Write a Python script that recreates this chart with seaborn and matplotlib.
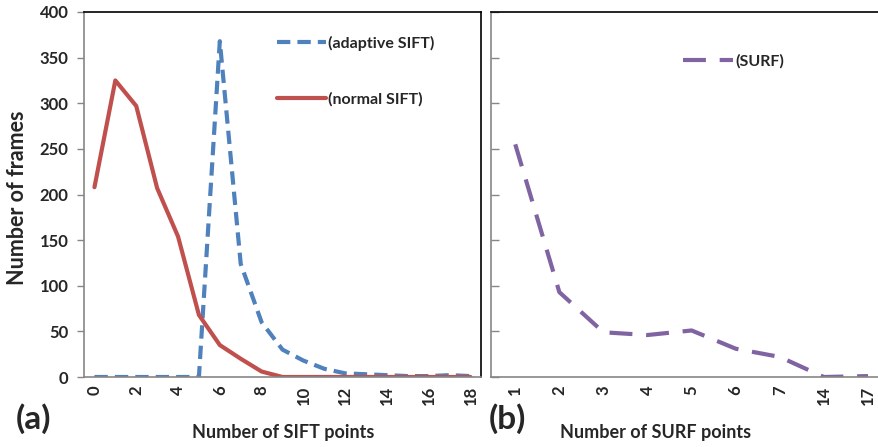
import matplotlib

matplotlib.use("Agg")
import matplotlib.pyplot as plt
import numpy as np
import pandas as pd
import seaborn as sns

# --- data ----------------------------------------------------------------- #
sift_points = list(range(19))
adaptive_sift = [0, 0, 0, 0, 0, 0, 368, 124, 60, 30, 18, 9, 4, 3, 2, 1, 1, 2, 1]
normal_sift = [208, 325, 297, 207, 154, 68, 35, 20, 6, 0, 0, 0, 0, 0, 0, 0, 0, 0, 0]

surf_labels = ["1", "2", "3", "4", "5", "6", "7", "14", "17"]
surf_frames = [255, 93, 49, 46, 51, 31, 22, 0, 1]

y_ticks = list(range(0, 401, 50))

BLUE = "#4F81BD"
RED = "#C0504D"
PURPLE = "#8064A2"
GRAY = "#868686"

sns.set_theme(style="white")
plt.rcParams["font.family"] = ["Lato", "DejaVu Sans"]
plt.rcParams["font.weight"] = "bold"

W, H = 879, 447
fig = plt.figure(figsize=(W / 100, H / 100), dpi=100)


def px_axes(x0, x1, y0, y1):
    return fig.add_axes([x0 / W, 1 - y1 / H, (x1 - x0) / W, (y1 - y0) / H])


ax_a = px_axes(84, 481, 12, 377)
ax_b = px_axes(491, 879, 12, 377)

# --- panel (a) -------------------------------------------------------------- #
sift_df = pd.DataFrame(
    {"points": sift_points, "adaptive": adaptive_sift, "normal": normal_sift}
)
sns.lineplot(
    data=sift_df, x="points", y="adaptive", ax=ax_a, color=BLUE, lw=3,
    label="(adaptive SIFT)",
)
ax_a.lines[-1].set_dashes((3.2, 1.7))
sns.lineplot(
    data=sift_df, x="points", y="normal", ax=ax_a, color=RED, lw=3,
    label="(normal SIFT)",
)

ax_a.set_xlim(-0.5, 18.5)
ax_a.set_ylim(0, 400)
ax_a.set_xticks(sift_points[::2])
ax_a.set_xticklabels([str(v) for v in sift_points[::2]], rotation=90)
ax_a.set_yticks(y_ticks)
ax_a.tick_params(axis="y", direction="out", length=5, color=GRAY, width=1,
                 labelsize=12, pad=6, left=True)
ax_a.tick_params(axis="x", length=0, labelsize=12, pad=6)
for lab in ax_a.get_xticklabels() + ax_a.get_yticklabels():
    lab.set_fontweight("bold")

ax_a.set_xlabel("Number of SIFT points", fontsize=13, fontweight="bold")
ax_a.xaxis.set_label_coords(0.5025, -0.128)
ax_a.set_ylabel("Number of frames", fontsize=15.5, fontweight="bold")
ax_a.yaxis.set_label_coords(-0.142, 0.49)

ax_a.legend(
    loc="upper left", bbox_to_anchor=(0.485, 0.935), frameon=False,
    prop={"size": 11.5, "weight": "bold"}, handlelength=3.1, handletextpad=0.15,
    labelspacing=2.6, borderpad=0, borderaxespad=0,
)

# --- panel (b) -------------------------------------------------------------- #
surf_df = pd.DataFrame({"pos": np.arange(len(surf_labels)), "frames": surf_frames})
sns.lineplot(data=surf_df, x="pos", y="frames", ax=ax_b, color=PURPLE, lw=3,
             label="(SURF)")
ax_b.lines[-1].set_dashes((5.5, 3.3))

ax_b.set_xlim(-0.55, 8.25)
ax_b.set_ylim(0, 400)
ax_b.set_xticks(surf_df["pos"])
ax_b.set_xticklabels(surf_labels, rotation=90)
ax_b.set_yticks(y_ticks)
ax_b.tick_params(axis="y", direction="in", length=6, color=GRAY, width=1,
                 labelleft=False, left=True)
ax_b.tick_params(axis="x", length=0, labelsize=12, pad=6)
for lab in ax_b.get_xticklabels():
    lab.set_fontweight("bold")
ax_b.set_xlabel("Number of SURF points", fontsize=13, fontweight="bold")
ax_b.xaxis.set_label_coords(0.424, -0.128)
ax_b.set_ylabel("")

ax_b.legend(
    loc="upper left", bbox_to_anchor=(0.495, 0.885), frameon=False,
    prop={"size": 11.5, "weight": "bold"}, handlelength=3.1, handletextpad=0.15,
    borderpad=0, borderaxespad=0,
)

# --- frames ----------------------------------------------------------------- #
for ax in (ax_a, ax_b):
    for side in ("left", "bottom", "top"):
        ax.spines[side].set_linewidth(1.2)
    ax.spines["left"].set_color(GRAY)
    ax.spines["bottom"].set_color(GRAY)
    ax.spines["top"].set_color("black")
ax_a.spines["right"].set_color("black")
ax_a.spines["right"].set_linewidth(1.2)
ax_b.spines["right"].set_visible(False)

fig.text(16 / W, 1 - 419 / H, "(a)", fontsize=24, fontweight="bold",
         va="center", ha="left")
fig.text(489 / W, 1 - 419 / H, "(b)", fontsize=24, fontweight="bold",
         va="center", ha="left")

fig.savefig("out.png", dpi=100)
